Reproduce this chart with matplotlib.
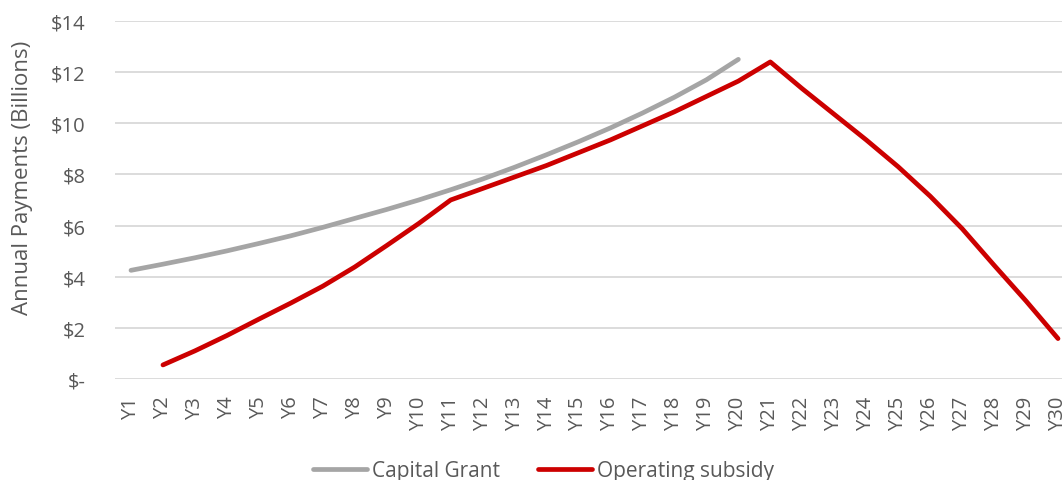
import numpy as np
import matplotlib.pyplot as plt
from matplotlib import rcParams

rcParams['font.family'] = ['Open Sans', 'DejaVu Sans']

years = ['Y%d' % i for i in range(1, 31)]

# Capital Grant, Y1..Y20 (billions)
capital = [4.25, 4.49, 4.74, 5.01, 5.30, 5.60, 5.93, 6.28, 6.63, 7.00,
           7.40, 7.82, 8.28, 8.77, 9.28, 9.82, 10.40, 11.02, 11.70, 12.50]
# Operating subsidy, Y2..Y30 (billions)
operating = [0.55, 1.10, 1.70, 2.34, 2.97, 3.63, 4.38, 5.22, 6.08, 7.00,
             7.45, 7.90, 8.35, 8.85, 9.35, 9.90, 10.45, 11.05, 11.65, 12.40,
             11.35, 10.35, 9.35, 8.30, 7.15, 5.88, 4.45, 3.05, 1.58]

ytick_vals = [0, 2, 4, 6, 8, 10, 12, 14]
ytick_labels = ['$-', '$2', '$4', '$6', '$8', '$10', '$12', '$14']

txt = '#595959'

fig = plt.figure(figsize=(10.62, 4.81), dpi=100)
ax = fig.add_axes([115/1062, 1-380/481, (1074-115)/1062, (380-22)/481])

x = np.arange(len(years))
ax.plot(x[:len(capital)], capital, color='#A5A5A5', lw=3.4,
        solid_capstyle='round', solid_joinstyle='round', label='Capital Grant', zorder=3)
ax.plot(x[1:1+len(operating)], operating, color='#CC0000', lw=3.4,
        solid_capstyle='round', solid_joinstyle='round', label='Operating subsidy', zorder=3)

ax.set_xlim(-0.5, len(years)-0.5)
ax.set_ylim(0, 14)
ax.set_yticks(ytick_vals)
ax.set_yticklabels(ytick_labels)
ax.set_xticks(x)
ax.set_xticklabels(years, rotation=90)
ax.tick_params(length=0, labelsize=14.5, colors=txt)
ax.tick_params(axis='y', pad=21)
ax.tick_params(axis='x', pad=12)

ax.grid(axis='y', color='#D9D9D9', lw=1.3)
ax.set_axisbelow(True)
for s in ax.spines.values():
    s.set_visible(False)

ax.set_ylabel('Annual Payments (Billions)', fontsize=16, color=txt)
ax.yaxis.set_label_coords(-0.086, 0.564)

fig.legend(loc='center', bbox_to_anchor=(0.512, 1-472/481), ncol=2, frameon=False,
           fontsize=15, labelcolor=txt, handlelength=2.6, handletextpad=0.25,
           columnspacing=1.8)

fig.savefig('out.png', dpi=100)
